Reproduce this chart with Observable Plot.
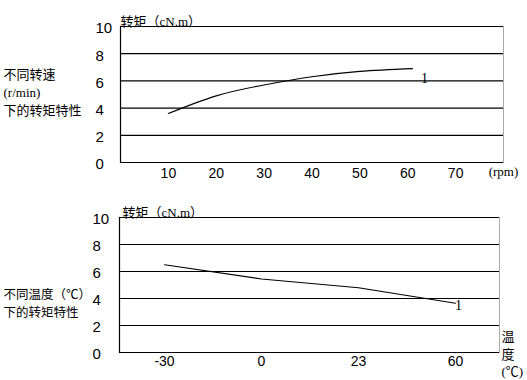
<!DOCTYPE html>
<html>
<head>
<meta charset="utf-8">
<script src="https://cdn.jsdelivr.net/npm/d3@7"></script>
<script src="https://cdn.jsdelivr.net/npm/@observablehq/plot@0.6"></script>
<style>
  html, body { margin: 0; padding: 0; background: #fff; }
  #chart svg { display: block; }
</style>
</head>
<body>
<div id="chart"></div>
<script>
// ---- Data ----
const speedTicks = [10, 20, 30, 40, 50, 60, 70];
const speeds = [10, 20, 30, 40, 50, 61];
const torqueBySpeed = [3.6, 4.9, 5.7, 6.3, 6.7, 6.9];

const tempLabels = ["-30", "0", "23", "60"];
const torqueByTemp = [6.5, 5.45, 4.8, 3.65];

const yTicks = [0, 2, 4, 6, 8, 10];

const topTitle = "转矩（cN.m）";
const topSide = "不同转速\n(r/min)\n下的转矩特性";
const topUnit = "(rpm)";
const bottomTitle = "转矩（cN.m）";
const bottomSide = "不同温度（℃）\n下的转矩特性";
const bottomUnit = "温\n度\n(℃)";
const seriesLabel = "1";

const numFont = "'Liberation Sans', 'Noto Sans CJK SC', sans-serif";
const cjkFont = "'Liberation Serif', 'Noto Sans CJK SC', serif";

const speedData = speeds.map((s, i) => ({x: s, y: torqueBySpeed[i]}));
const tempData = tempLabels.map((t, i) => ({x: t, y: torqueByTemp[i]}));

const topChart = Plot.plot({
  width: 527, height: 190,
  marginLeft: 120, marginRight: 24, marginTop: 26, marginBottom: 28,
  style: {fontFamily: numFont, fontSize: "14px", color: "#000", background: "#fff"},
  x: {domain: [0, 80]},
  y: {domain: [0, 10]},
  marks: [
    Plot.ruleY(yTicks, {stroke: "#000", strokeWidth: 1.2}),
    Plot.frame({anchor: "left", stroke: "#000", strokeWidth: 1.2}),
    Plot.frame({anchor: "right", stroke: "#aaa", strokeWidth: 1}),
    Plot.axisY({ticks: yTicks, tickSize: 0, tickPadding: 0, textAnchor: "start", dx: -25, dy: 2, fontSize: 15, label: null}),
    Plot.axisX({ticks: speedTicks, tickSize: 0, tickPadding: 6, fontSize: 14, label: null}),
    Plot.line(speedData, {x: "x", y: "y", curve: "natural", stroke: "#000", strokeWidth: 1.1}),
    Plot.text([seriesLabel], {x: 63.5, y: 6.15, text: d => d, fontFamily: cjkFont, fontSize: 14}),
    Plot.text([topTitle], {frameAnchor: "top-left", text: d => d, textAnchor: "start", dy: -10, fontFamily: cjkFont, fontSize: 13}),
    Plot.text([topUnit], {frameAnchor: "bottom-right", text: d => d, textAnchor: "middle", dy: 13, fontFamily: cjkFont, fontSize: 13}),
    Plot.text([topSide], {frameAnchor: "top-left", text: d => d, textAnchor: "start", lineAnchor: "top", dx: -117, dy: 40, lineHeight: 1.38, fontFamily: cjkFont, fontSize: 13})
  ]
});

const bottomChart = Plot.plot({
  width: 527, height: 190,
  marginLeft: 119, marginRight: 28, marginTop: 27, marginBottom: 28,
  style: {fontFamily: numFont, fontSize: "14px", color: "#000", background: "#fff"},
  x: {type: "point", domain: tempLabels, padding: 0.45},
  y: {domain: [0, 10]},
  marks: [
    Plot.ruleY(yTicks, {stroke: "#000", strokeWidth: 1.2}),
    Plot.frame({anchor: "left", stroke: "#000", strokeWidth: 1.2}),
    Plot.frame({anchor: "right", stroke: "#aaa", strokeWidth: 1}),
    Plot.axisY({ticks: yTicks, tickSize: 0, tickPadding: 0, textAnchor: "start", dx: -27, dy: 2, fontSize: 15, label: null}),
    Plot.axisX({tickSize: 0, tickPadding: 4, fontSize: 14, label: null}),
    Plot.line(tempData, {x: "x", y: "y", stroke: "#000", strokeWidth: 1.1}),
    Plot.text([seriesLabel], {x: () => "60", y: 3.5, text: d => d, dx: 3, fontFamily: cjkFont, fontSize: 14}),
    Plot.text([bottomTitle], {frameAnchor: "top-left", text: d => d, textAnchor: "start", dx: 3, dy: -10, fontFamily: cjkFont, fontSize: 13}),
    Plot.text([bottomUnit], {frameAnchor: "top-right", text: d => d, textAnchor: "start", lineAnchor: "top", dx: 2, dy: 111, lineHeight: 1.35, fontFamily: cjkFont, fontSize: 13}),
    Plot.text([bottomSide], {frameAnchor: "top-left", text: d => d, textAnchor: "start", lineAnchor: "top", dx: -116, dy: 69, lineHeight: 1.45, fontFamily: cjkFont, fontSize: 12.5})
  ]
});

document.getElementById("chart").append(topChart, bottomChart);
</script>
</body>
</html>
